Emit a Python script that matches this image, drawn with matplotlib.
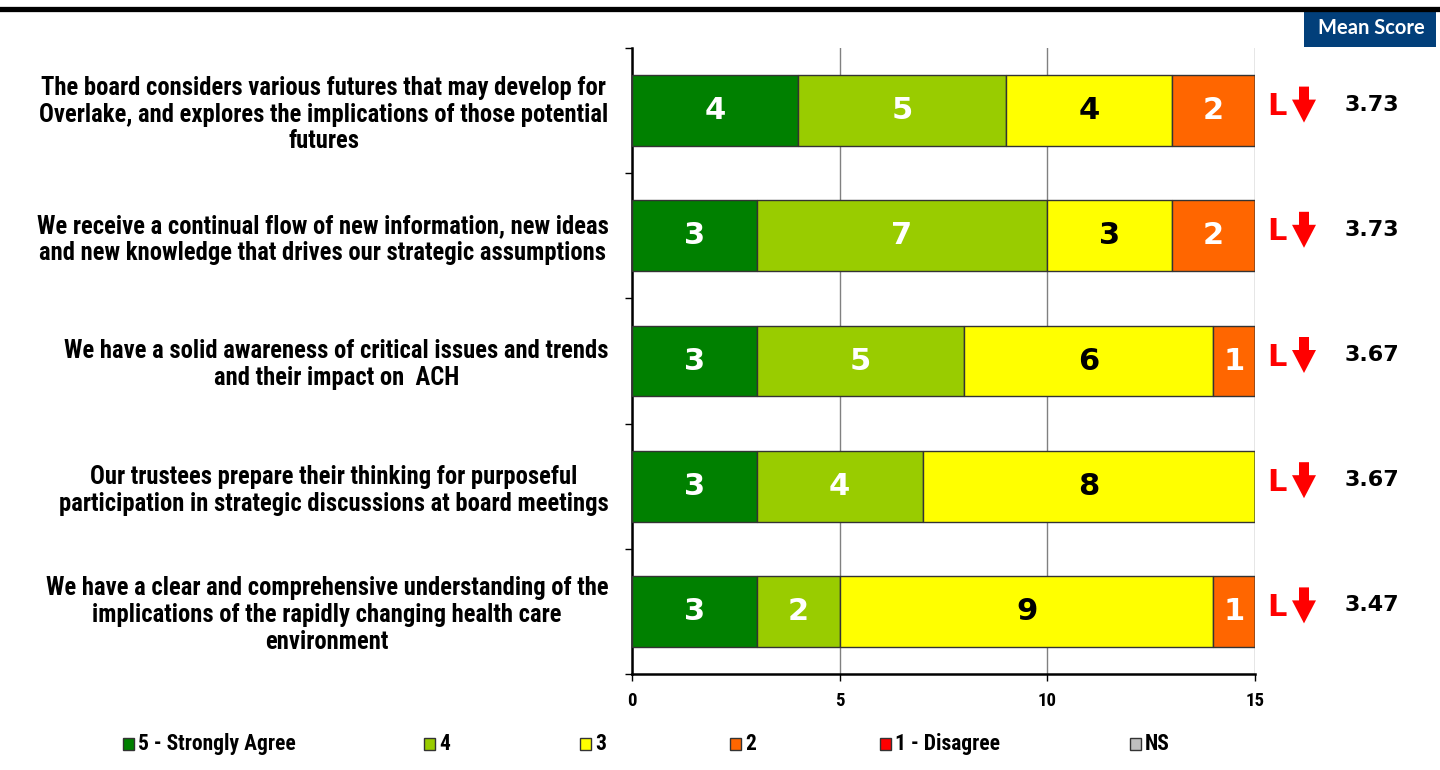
import matplotlib
matplotlib.use("Agg")
import matplotlib.pyplot as plt
from matplotlib.patches import Rectangle, Polygon
from matplotlib.lines import Line2D
from matplotlib.transforms import offset_copy
import numpy as np

# ---- data -------------------------------------------------------------
statements = [
    "The board considers various futures that may develop for\nOverlake, and explores the implications of those potential\nfutures",
    "We receive a continual flow of new information, new ideas\nand new knowledge that drives our strategic assumptions",
    "We have a solid awareness of critical issues and trends\nand their impact on  ACH",
    "Our trustees prepare their thinking for purposeful\nparticipation in strategic discussions at board meetings",
    "We have a clear and comprehensive understanding of the\nimplications of the rapidly changing health care\nenvironment",
]
response_labels = ["5 - Strongly Agree", "4", "3", "2", "1 - Disagree", "NS"]
strongly_agree = [4, 3, 3, 3, 3]
agree = [5, 7, 5, 4, 2]
neutral = [4, 3, 6, 8, 9]
disagree = [2, 2, 1, 0, 1]
strongly_disagree = [0, 0, 0, 0, 0]
not_sure = [0, 0, 0, 0, 0]
mean_scores = ["3.73", "3.73", "3.67", "3.67", "3.47"]
flags = ["L", "L", "L", "L", "L"]
x_ticks = [0, 5, 10, 15]

colors = ["#008000", "#99CC00", "#FFFF00", "#FF6600", "#FF0000", "#C0C0C0"]
text_colors = ["white", "white", "black", "white", "white", "black"]

NARROW = ["Roboto Condensed", "Liberation Sans", "DejaVu Sans"]

W, H = 1440, 770
fig = plt.figure(figsize=(W / 100, H / 100), dpi=100)
ax = fig.add_axes([632 / W, 1 - 674 / H, (1255 - 632) / W, (674 - 48) / H])

series = [strongly_agree, agree, neutral, disagree, strongly_disagree, not_sure]
ypos = np.arange(len(statements))
left = np.zeros(len(statements))
for vals, col, tcol in zip(series, colors, text_colors):
    vals = np.array(vals, dtype=float)
    ax.barh(ypos, vals, left=left, height=0.565, color=col,
            edgecolor="#333333", linewidth=1.0, zorder=3)
    for y, v, l in zip(ypos, vals, left):
        if v > 0:
            ax.text(l + v / 2, y, f"{int(v)}", ha="center", va="center",
                    color=tcol, fontsize=22, fontweight="bold",
                    family="DejaVu Sans", zorder=4)
    left += vals

ax.set_xlim(0, 15)
ax.set_ylim(len(statements) - 0.5, -0.5)

# axes styling
for s in ["top", "right"]:
    ax.spines[s].set_visible(False)
ax.spines["left"].set_linewidth(1.8)
ax.spines["bottom"].set_linewidth(1.8)
ax.set_xticks(x_ticks)
ax.set_xticklabels([str(t) for t in x_ticks], fontsize=13.5, fontweight="bold",
                   family=NARROW)
ax.tick_params(axis="x", length=5, width=1, direction="out", pad=8)
ax.xaxis.grid(True, color="#808080", linewidth=1.0, zorder=0)
ax.set_axisbelow(True)

ax.set_yticks(ypos)
ax.set_yticklabels(statements, fontsize=17.7, fontweight="bold", family=NARROW,
                   linespacing=1.15)
for lab in ax.get_yticklabels():
    lab.set_multialignment("center")
ax.set_yticks(np.arange(-0.5, len(statements)), minor=True)
ax.tick_params(axis="y", which="major", length=0, pad=17)
ax.tick_params(axis="y", which="minor", length=5, width=1, direction="out")

# flags, arrows and mean scores to the right of each bar
for i in range(len(statements)):
    tr_L = offset_copy(ax.transData, fig=fig, x=12, y=4, units="dots")
    ax.text(15, i, flags[i], transform=tr_L, ha="left", va="center",
            color="#FF0000", fontsize=22, fontweight="bold",
            family="DejaVu Sans", clip_on=False)
    tr_m = offset_copy(ax.transData, fig=fig, x=90, y=6, units="dots")
    ax.text(15, i, mean_scores[i], transform=tr_m, ha="left", va="center",
            color="black", fontsize=16, fontweight="bold",
            family="DejaVu Sans", clip_on=False)
    cx, cy = ax.transData.transform((15, i))
    cx += 49
    cy += 6
    pts = [(cx - 5, cy + 18), (cx + 5, cy + 18), (cx + 5, cy + 5),
           (cx + 12, cy + 5), (cx, cy - 18), (cx - 12, cy + 5),
           (cx - 5, cy + 5)]
    fig.patches.append(Polygon(pts, closed=True, facecolor="#FF0000",
                               edgecolor="none", transform=None,
                               figure=fig))

# header rule and "Mean Score" tab
fig.add_artist(Line2D([0, 1], [1 - 8.5 / H, 1 - 8.5 / H], color="black",
                      linewidth=3.8, transform=fig.transFigure))
fig.add_artist(Rectangle((1304 / W, 1 - 47 / H), (1436 - 1304) / W, 36 / H,
                         facecolor="#023F7A", edgecolor="none",
                         transform=fig.transFigure))
fig.text(1371 / W, 1 - 28 / H, "Mean Score", ha="center", va="center",
         color="white", fontsize=14.5, fontweight="bold", family="Lato")

# legend row
legend_x = [123, 424, 580, 730, 880, 1130]
ly = 744
for x, lab, col in zip(legend_x, response_labels, colors):
    fig.add_artist(Rectangle((x / W, 1 - (ly + 6) / H), 11 / W, 12 / H,
                             facecolor=col, edgecolor="#333333",
                             linewidth=1.0, transform=fig.transFigure))
    fig.text((x + 15) / W, 1 - ly / H, lab, ha="left", va="center",
             fontsize=15.5, fontweight="bold", family=NARROW)

fig.savefig("out.png", dpi=100, facecolor="white")
